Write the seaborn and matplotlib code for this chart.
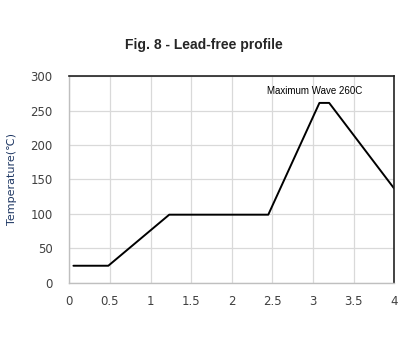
import numpy as np
import pandas as pd
import matplotlib
matplotlib.use("Agg")
import matplotlib.pyplot as plt
import seaborn as sns

# profile points
time_h = [0.05, 0.48, 1.23, 2.45, 3.08, 3.2, 4.0]
temp_c = [25, 25, 99, 99, 261, 261, 137]
x_ticks = [0, 0.5, 1, 1.5, 2, 2.5, 3, 3.5, 4]
x_tick_labels = ["0", "0.5", "1", "1.5", "2", "2.5", "3", "3.5", "4"]
y_ticks = [0, 50, 100, 150, 200, 250, 300]

df = pd.DataFrame({"time": time_h, "temp": temp_c})

sns.set_theme(style="whitegrid")
plt.rcParams["font.family"] = ["DejaVu Sans"]

fig = plt.figure(figsize=(4.08, 3.54), dpi=100)
ax = fig.add_axes([0.170, 0.2006, 0.796, 0.5847])

sns.lineplot(data=df, x="time", y="temp", color="black", linewidth=1.4,
             sort=False, ax=ax)

ax.set_xlim(0, 4)
ax.set_ylim(0, 300)
ax.set_xticks(x_ticks)
ax.set_xticklabels(x_tick_labels)
ax.set_yticks(y_ticks)
ax.tick_params(axis="both", length=0, labelsize=8.5, colors="#404040", pad=9)
ax.tick_params(axis="y", pad=12)

ax.grid(True, color="#d9d9d9", linewidth=0.9)
ax.set_facecolor("white")
for side in ["left", "bottom"]:
    ax.spines[side].set_color("#bfbfbf")
    ax.spines[side].set_linewidth(1.0)
for side in ["top", "right"]:
    ax.spines[side].set_color("#222222")
    ax.spines[side].set_linewidth(1.2)

ax.set_xlabel("")
ax.set_ylabel("Temperature(\u2103)", fontsize=8, color="#1f3864", labelpad=10)

ax.text(3.02, 278, "Maximum Wave 260C", fontsize=7, color="black",
        ha="center", va="center", family=["Liberation Sans", "DejaVu Sans"])

fig.text(0.5, 0.873, "Fig. 8 - Lead-free profile", ha="center", va="center",
         fontsize=10, fontweight="bold", family=["Liberation Sans", "DejaVu Sans"])

fig.savefig("out.png", dpi=100)
